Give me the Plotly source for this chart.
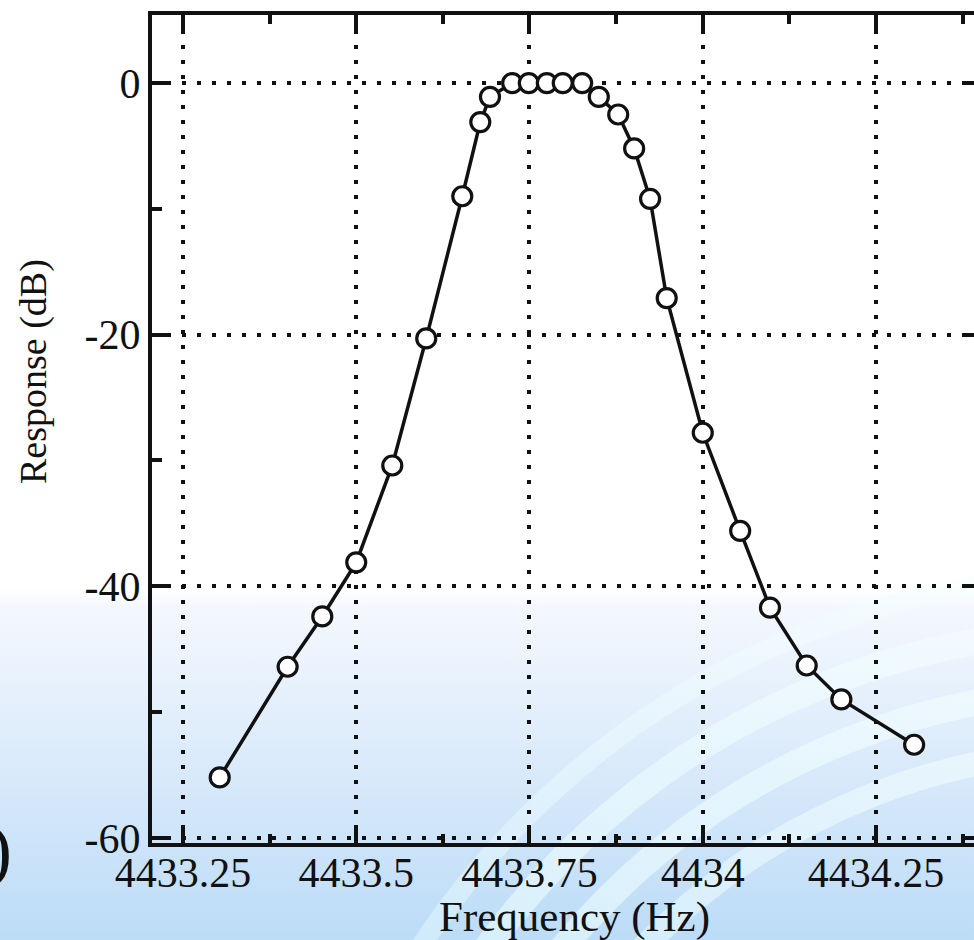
import base64
import plotly.graph_objects as go

# ---------------- data ----------------
freq_hz = [4433.303, 4433.401, 4433.451, 4433.500, 4433.552, 4433.601, 4433.653,
           4433.679, 4433.693, 4433.725, 4433.749, 4433.775, 4433.798, 4433.826,
           4433.850, 4433.878, 4433.901, 4433.924, 4433.948, 4434.000, 4434.054,
           4434.097, 4434.150, 4434.200, 4434.305]
response_db = [-55.2, -46.4, -42.4, -38.1, -30.4, -20.3, -9.0,
               -3.1, -1.1, 0.0, 0.0, 0.0, 0.0, 0.0,
               -1.1, -2.5, -5.2, -9.2, -17.1, -27.8, -35.6,
               -41.7, -46.3, -49.0, -52.6]
x_tick_vals = [4433.25, 4433.5, 4433.75, 4434.0, 4434.25]
x_tick_text = ["4433.25", "4433.5", "4433.75", "4434", "4434.25"]
y_tick_vals = [-60, -40, -20, 0]
y_tick_text = ["-60", "-40", "-20", "0"]

# ---------------- layout geometry ----------------
W, H = 974, 940
ML, MR, MT, MB = 152, 0, 15, 97
PW, PH = W - ML - MR, H - MT - MB
X_RANGE = [4433.2053, 4434.3914]
Y_RANGE = [-60.41, 5.41]
INK = "#111111"
FONT = "Liberation Serif, Times New Roman, serif"


def px_to_paper_x(px):
    return (px - ML) / PW


def px_to_paper_y(py):
    return 1 - (py - MT) / PH


# decorative slide background (gradient + soft arcs)
svg = f'''<svg xmlns="http://www.w3.org/2000/svg" width="{W}" height="{H}" viewBox="0 0 {W} {H}">
<defs>
<linearGradient id="g" x1="0" y1="0" x2="0" y2="1">
<stop offset="0" stop-color="#ffffff"/>
<stop offset="0.625" stop-color="#ffffff"/>
<stop offset="0.645" stop-color="#f4f8fe"/>
<stop offset="0.80" stop-color="#dcebfb"/>
<stop offset="1" stop-color="#bcdcf7"/>
</linearGradient>
<linearGradient id="c" x1="0" y1="1" x2="1" y2="0">
<stop offset="0" stop-color="#d8fbff"/>
<stop offset="1" stop-color="#ffffff"/>
</linearGradient>
</defs>
<rect width="{W}" height="{H}" fill="url(#g)"/>
<g fill="none" stroke="url(#c)">
<circle cx="1110" cy="1400" r="650" stroke-opacity="0.55" stroke-width="24"/>
<circle cx="1110" cy="1400" r="710" stroke-opacity="0.60" stroke-width="26"/>
<circle cx="1110" cy="1400" r="770" stroke-opacity="0.60" stroke-width="26"/>
<circle cx="1110" cy="1400" r="825" stroke-opacity="0.45" stroke-width="20"/>
</g>
</svg>'''
bg_uri = "data:image/svg+xml;base64," + base64.b64encode(svg.encode()).decode()

fig = go.Figure()
fig.add_trace(go.Scatter(
    x=freq_hz, y=response_db, mode="lines+markers",
    line=dict(color=INK, width=3.5),
    marker=dict(symbol="circle", size=19, color="white", line=dict(color=INK, width=3.2)),
    showlegend=False, hoverinfo="skip",
))
# empty trace to carry the right-hand tick stubs
fig.add_trace(go.Scatter(x=[], y=[], yaxis="y2", showlegend=False))

fig.update_layout(
    width=W, height=H,
    margin=dict(l=ML, r=MR, t=MT, b=MB, pad=0),
    paper_bgcolor="white",
    plot_bgcolor="rgba(0,0,0,0)",
    font=dict(family=FONT, color=INK, size=42),
    xaxis=dict(
        range=X_RANGE, tickvals=x_tick_vals, ticktext=x_tick_text,
        ticks="inside", ticklen=18, tickwidth=4, tickcolor=INK,
        minor=dict(dtick=0.125, tick0=4433.25, ticks="inside", ticklen=9,
                   tickwidth=4, tickcolor=INK, showgrid=False),
        showline=True, linecolor=INK, linewidth=4, mirror="ticks",
        showgrid=True, gridcolor=INK, gridwidth=4, griddash="4px,11px",
        zeroline=False, tickfont=dict(family=FONT, size=42, color=INK),
        ticklabelstandoff=-10,
    ),
    yaxis=dict(
        range=Y_RANGE, tickvals=y_tick_vals, ticktext=y_tick_text,
        ticks="inside", ticklen=18, tickwidth=4, tickcolor=INK,
        minor=dict(dtick=10, tick0=0, ticks="inside", ticklen=10,
                   tickwidth=4, tickcolor=INK, showgrid=False),
        showline=True, linecolor=INK, linewidth=4, mirror=False,
        showgrid=True, gridcolor=INK, gridwidth=4, griddash="4px,11px",
        zeroline=False, tickfont=dict(family=FONT, size=42, color=INK),
        ticklabelstandoff=-1,
    ),
    yaxis2=dict(
        overlaying="y", side="right", range=Y_RANGE, tickvals=y_tick_vals,
        ticks="inside", ticklen=10, tickwidth=4, tickcolor=INK,
        showticklabels=False, showgrid=False, showline=False, zeroline=False,
    ),
    images=[dict(
        source=bg_uri, xref="paper", yref="paper",
        x=px_to_paper_x(0), y=px_to_paper_y(0),
        sizex=W / PW, sizey=H / PH, sizing="stretch",
        xanchor="left", yanchor="top", layer="below",
    )],
    annotations=[
        dict(text="Frequency (Hz)", xref="paper", yref="paper",
             x=px_to_paper_x(574), y=px_to_paper_y(917),
             xanchor="center", yanchor="middle", showarrow=False,
             font=dict(family=FONT, size=43, color=INK)),
        dict(text="Response (dB)", xref="paper", yref="paper",
             x=px_to_paper_x(33), y=px_to_paper_y(372),
             xanchor="center", yanchor="middle", showarrow=False, textangle=-90,
             font=dict(family=FONT, size=38, color=INK)),
        dict(text=")", xref="paper", yref="paper",
             x=px_to_paper_x(14), y=px_to_paper_y(850),
             xanchor="right", yanchor="middle", showarrow=False,
             font=dict(family=FONT, size=72, color=INK)),
    ],
)

fig.write_html(
    "out.html",
    config={"displayModeBar": False},
    post_script="document.body.style.margin='0';document.body.style.overflow='hidden';",
)
